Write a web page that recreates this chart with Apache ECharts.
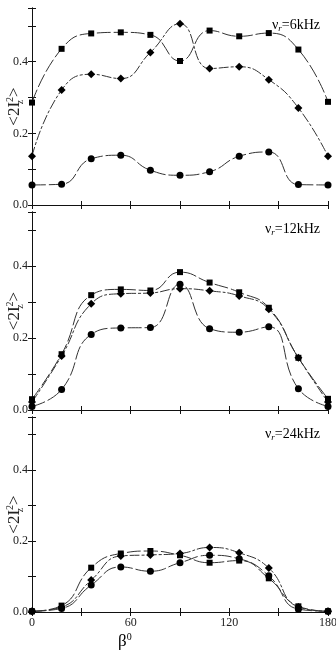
<!DOCTYPE html>
<html>
<head>
<meta charset="utf-8">
<script src="https://cdn.jsdelivr.net/npm/echarts@6/dist/echarts.min.js"></script>
<style>
  html, body { margin: 0; padding: 0; background: #fff; }
  #main { width: 336px; height: 655px; }
</style>
</head>
<body>
<div id="main"></div>
<script>
  // beta angle in degrees
  const beta = [0, 18, 36, 54, 72, 90, 108, 126, 144, 162, 180];

  // nu_r = 6 kHz
  const sq6 = [0.286, 0.436, 0.479, 0.482, 0.475, 0.402, 0.487, 0.471, 0.480, 0.434, 0.288];
  const di6 = [0.136, 0.321, 0.365, 0.353, 0.426, 0.506, 0.381, 0.386, 0.350, 0.271, 0.136];
  const ci6 = [0.056, 0.058, 0.129, 0.139, 0.097, 0.083, 0.093, 0.136, 0.148, 0.057, 0.056];
  // nu_r = 12 kHz
  const sq12 = [0.030, 0.155, 0.319, 0.335, 0.332, 0.383, 0.354, 0.327, 0.284, 0.145, 0.031];
  const di12 = [0.022, 0.150, 0.295, 0.323, 0.325, 0.337, 0.331, 0.317, 0.280, 0.145, 0.022];
  const ci12 = [0.010, 0.057, 0.210, 0.228, 0.229, 0.349, 0.226, 0.216, 0.231, 0.059, 0.010];
  // nu_r = 24 kHz
  const sq24 = [0.002, 0.018, 0.125, 0.165, 0.172, 0.160, 0.139, 0.145, 0.095, 0.016, 0.002];
  const di24 = [0.002, 0.014, 0.090, 0.158, 0.161, 0.165, 0.182, 0.167, 0.124, 0.014, 0.002];
  const ci24 = [0.002, 0.010, 0.076, 0.127, 0.115, 0.139, 0.160, 0.150, 0.102, 0.008, 0.002];

  const panelLabels = ['6kHz', '12kHz', '24kHz'];
  const panels = [[sq6, di6, ci6], [sq12, di12, ci12], [sq24, di24, ci24]];

  const font = 'Liberation Serif';
  const grids = [
    { left: 32, right: 8, top: 8, height: 197, outerBoundsMode: 'none', containLabel: false },
    { left: 32, right: 8, top: 212, height: 198, outerBoundsMode: 'none', containLabel: false },
    { left: 32, right: 8, top: 417, height: 195, outerBoundsMode: 'none', containLabel: false },
  ];

  const myChart = echarts.init(document.getElementById('main'));

  const xAxis = [];
  const yAxis = [];
  const series = [];
  const graphic = [];

  grids.forEach((g, k) => {
    const line = { show: true, lineStyle: { color: '#111', width: 1 } };
    // bottom x axis
    xAxis.push({
      type: 'value', gridIndex: k, position: 'bottom', min: 0, max: 180, interval: 30,
      axisLine: line,
      axisTick: { show: true, inside: true, length: 4, lineStyle: { color: '#111' } },
      splitLine: { show: false },
      axisLabel: {
        show: k === 2, margin: 5, color: '#222', fontFamily: font, fontSize: 12,
        formatter: v => (v % 60 === 0 ? String(v) : ''),
      },
    });
    // top x axis (ticks only)
    xAxis.push({
      type: 'value', gridIndex: k, position: 'top', min: 0, max: 180, interval: 30,
      axisLine: line,
      axisTick: { show: true, inside: true, length: 4, lineStyle: { color: '#111' } },
      splitLine: { show: false },
      axisLabel: { show: false },
    });
    // left y axis
    yAxis.push({
      type: 'value', gridIndex: k, position: 'left', min: 0, max: 0.55, interval: 0.1,
      axisLine: line,
      axisTick: { show: true, inside: true, length: 4, lineStyle: { color: '#111' } },
      splitLine: { show: false },
      axisLabel: {
        margin: 4, color: '#222', fontFamily: font, fontSize: 12,
        formatter: v => (Math.abs(v * 5 - Math.round(v * 5)) < 1e-6 ? v.toFixed(1) : ''),
      },
      name: '{t|<2I}{s|z}{p|2}{t|>}',
      nameLocation: 'middle',
      nameRotate: 90,
      nameGap: 7,
      nameMoveOverlap: false,
      nameTextStyle: {
        rich: {
          t: { fontFamily: font, fontSize: 17, color: '#222', lineHeight: 20 },
          s: { fontFamily: font, fontSize: 10, color: '#222', verticalAlign: 'bottom', width: 0 },
          p: { fontFamily: font, fontSize: 10, color: '#222', verticalAlign: 'top' },
        },
      },
    });
    // right y axis (ticks only)
    yAxis.push({
      type: 'value', gridIndex: k, position: 'right', min: 0, max: 0.55, interval: 0.1,
      axisLine: line,
      axisTick: { show: true, inside: true, length: 4, lineStyle: { color: '#111' } },
      splitLine: { show: false },
      axisLabel: { show: false },
    });

    const [sq, di, ci] = panels[k];
    const mk = (vals, symbol, size, dash) => ({
      type: 'line',
      xAxisIndex: 2 * k,
      yAxisIndex: 2 * k,
      data: vals.map((v, i) => [beta[i], v]),
      smooth: 0.5,
      symbol: symbol,
      symbolSize: size,
      showAllSymbol: true,
      itemStyle: { color: '#000' },
      lineStyle: { color: '#333', width: 1, type: dash },
      silent: true,
    });
    series.push(mk(sq, 'rect', 6, [14, 3]));
    series.push(mk(di, 'diamond', 8, [10, 2, 3, 2]));
    series.push(mk(ci, 'circle', 7, [14, 3]));

    graphic.push({
      type: 'text',
      right: 16,
      top: g.top + 10,
      style: {
        text: '{a|ν}{b|r}{a|=' + panelLabels[k] + '}',
        rich: {
          a: { fontFamily: font, fontSize: 14, color: '#222', lineHeight: 16 },
          b: { fontFamily: font, fontSize: 9, color: '#222', verticalAlign: 'bottom', fontStyle: 'italic' },
        },
      },
    });
  });

  graphic.push({
    type: 'text',
    left: 118,
    top: 632,
    style: {
      text: '{a|β}{b|0}',
      rich: {
        a: { fontFamily: font, fontSize: 17, color: '#222', lineHeight: 20 },
        b: { fontFamily: font, fontSize: 10, color: '#222', verticalAlign: 'top' },
      },
    },
  });

  myChart.setOption({
    animation: false,
    backgroundColor: '#fff',
    grid: grids,
    xAxis: xAxis,
    yAxis: yAxis,
    series: series,
    graphic: graphic,
  });
</script>
</body>
</html>
